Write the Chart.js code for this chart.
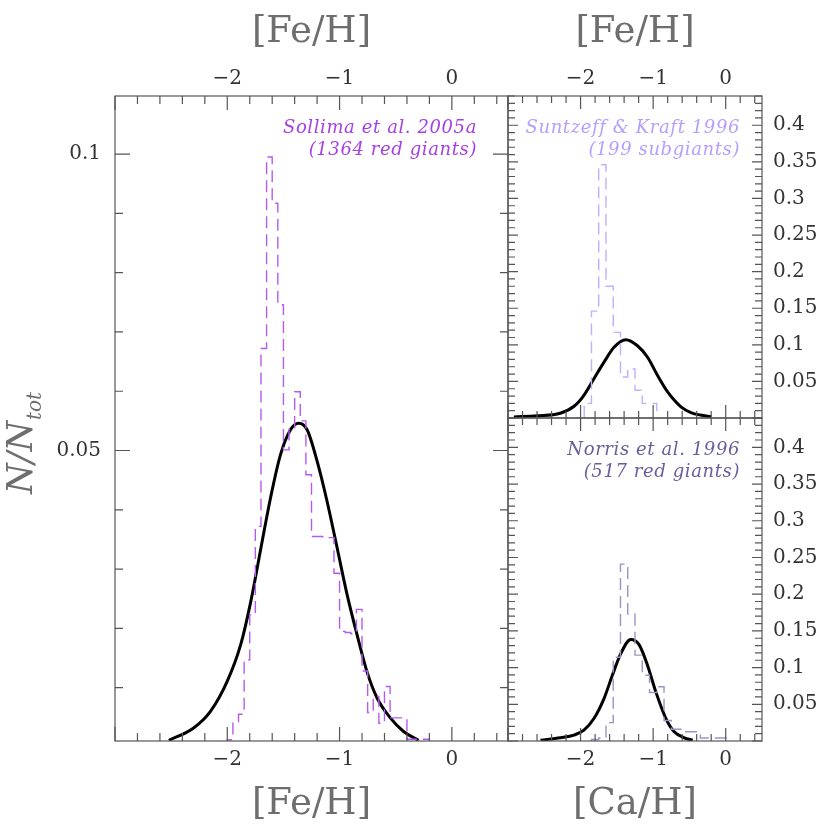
<!DOCTYPE html>
<html>
<head>
<meta charset="utf-8">
<script src="https://cdn.jsdelivr.net/npm/chart.js@4.4.1/dist/chart.umd.min.js"></script>
<style>
  html, body { margin: 0; padding: 0; background: #fff; }
  #wrap { position: relative; width: 830px; height: 830px; }
  #wrap canvas { position: absolute; left: 0; top: 0; }
</style>
</head>
<body>
<div id="wrap">
  <canvas id="left" width="830" height="830"></canvas>
  <canvas id="topRight" width="830" height="830"></canvas>
  <canvas id="bottomRight" width="830" height="830"></canvas>
</div>
<script>
// tick labels
var xTickValues = [-2, -1, 0];
var leftYTicks = [0.05, 0.1];
var rightYTicks = [0.05, 0.1, 0.15, 0.2, 0.25, 0.3, 0.35, 0.4];

// Sollima et al. 2005a, [Fe/H] histogram (bin edges, fraction per bin)
var sollimaEdges = [-2.00, -1.95, -1.90, -1.85, -1.80, -1.75, -1.70, -1.65, -1.60, -1.55, -1.50, -1.45, -1.40,
  -1.35, -1.30, -1.25, -1.20, -1.15, -1.10, -1.05, -1.00, -0.95, -0.90, -0.85, -0.80, -0.75, -0.70, -0.65,
  -0.60, -0.55, -0.50, -0.45, -0.40, -0.35, -0.30, -0.25, -0.20];
var sollimaFrac = [0.0012, 0.0043, 0.0055, 0.0147, 0.0223, 0.0372, 0.0672, 0.0995, 0.0917, 0.0746, 0.0501, 0.0538,
  0.0599, 0.0550, 0.0459, 0.0355, 0.0355, 0.0353, 0.0353, 0.0293, 0.0195, 0.0193, 0.0191, 0.0232, 0.0128, 0.0058,
  0.0085, 0.0040, 0.0102, 0.0049, 0.0049, 0.0049, 0.0013, 0.0013, 0.0013, 0.0013];
// model curve in the left panel
var sollimaFitX = [-2.52, -2.30, -2.15, -2.00, -1.88, -1.79, -1.70, -1.615, -1.526, -1.437, -1.364, -1.289, -1.20,
  -1.111, -1.022, -0.933, -0.844, -0.756, -0.667, -0.548, -0.43, -0.297];
var sollimaFitY = [0.0011, 0.0032, 0.0060, 0.0111, 0.0173, 0.0246, 0.0336, 0.0420, 0.0493, 0.0535, 0.0546, 0.0535,
  0.0482, 0.0414, 0.0336, 0.0257, 0.0189, 0.0127, 0.0083, 0.0049, 0.0026, 0.0011];

// Suntzeff & Kraft 1996
var suntzeffEdges = [-1.95, -1.85, -1.75, -1.65, -1.55, -1.45, -1.35, -1.25, -1.15, -1.05, -0.95];
var suntzeffFrac = [0.020, 0.146, 0.346, 0.180, 0.117, 0.056, 0.067, 0.038, 0.020, 0.020];
var suntzeffFitX = [-2.92, -2.60, -2.28, -2.09, -1.954, -1.816, -1.677, -1.539, -1.378, -1.216, -1.077, -0.939,
  -0.801, -0.617, -0.479, -0.35, -0.20];
var suntzeffFitY = [0.0015, 0.003, 0.0065, 0.016, 0.031, 0.0536, 0.0763, 0.0966, 0.107, 0.0987, 0.083, 0.058,
  0.0356, 0.0153, 0.0075, 0.004, 0.0018];

// Norris et al. 1996, [Ca/H]
var norrisEdges = [-1.85, -1.75, -1.65, -1.55, -1.45, -1.35, -1.25, -1.15, -1.05, -0.95, -0.85, -0.75, -0.65,
  -0.55, -0.45, -0.35, -0.25, -0.15, -0.05, 0.05];
var norrisFrac = [0.002, 0.004, 0.025, 0.114, 0.241, 0.173, 0.117, 0.0895, 0.066, 0.074, 0.028, 0.016, 0.016,
  0.0125, 0.0125, 0.004, 0.004, 0.004, 0.004];
var norrisFitX = [-2.553, -2.277, -2.092, -1.954, -1.816, -1.677, -1.562, -1.446, -1.308, -1.194, -1.077, -0.963,
  -0.824, -0.71, -0.571, -0.455];
var norrisFitY = [0.001, 0.0044, 0.0079, 0.0147, 0.0306, 0.0578, 0.0895, 0.119, 0.1384, 0.1312, 0.103, 0.0669,
  0.0306, 0.0125, 0.0044, 0.001];

var serif = "'DejaVu Serif', 'Liberation Serif', serif";
var tickFont = { family: serif, size: 20 };
var titleFont = { family: serif, size: 37 };

function minus(v) {
  return v < 0 ? "\u2212" + Math.abs(v) : String(v);
}

function toPoints(xs, ys) {
  return xs.map(function (x, i) { return { x: x, y: ys[i] }; });
}

// step outline: start and end on the axis
function histPoints(edges, frac) {
  var pts = [{ x: edges[0], y: 0 }];
  for (var i = 0; i < frac.length; i++) pts.push({ x: edges[i], y: frac[i] });
  pts.push({ x: edges[edges.length - 1], y: 0 });
  return pts;
}

function xAxis(pos, title, size) {
  return {
    type: "linear", position: pos, min: -3, max: 0.5,
    afterBuildTicks: function (s) { s.ticks = xTickValues.map(function (v) { return { value: v }; }); },
    afterFit: function (s) { s.height = size; },
    ticks: { callback: minus, font: tickFont, color: "#333", padding: pos === "top" ? 5 : 7, maxRotation: 0, autoSkip: false },
    grid: { display: false, drawTicks: false },
    border: { display: false },
    title: { display: !!title, text: title, font: titleFont, color: "#6e6e6e",
      padding: pos === "top" ? { top: 10, bottom: 0 } : { top: 0, bottom: 3 } }
  };
}

function yAxis(pos, min, max, labels, size, pad) {
  return {
    type: "linear", position: pos, min: min, max: max,
    afterBuildTicks: function (s) { s.ticks = labels.map(function (v) { return { value: v }; }); },
    afterFit: function (s) { s.width = size; },
    ticks: { callback: function (v) { return String(v); }, font: tickFont, color: "#333", padding: pad },
    grid: { display: false, drawTicks: false },
    border: { display: false }
  };
}

// frame with inward ticks on all four sides
var frameTicks = {
  id: "frameTicks",
  afterDatasetsDraw: function (chart, args, o) {
    var a = chart.chartArea, ctx = chart.ctx;
    var xs = chart.scales.x, ys = chart.scales.y;
    ctx.save();
    ctx.strokeStyle = "#555";
    ctx.lineWidth = 1.2;
    ctx.beginPath();
    var k, v, len, p;
    for (k = Math.ceil(xs.min / o.xMinor - 1e-6); k <= Math.floor(xs.max / o.xMinor + 1e-6); k++) {
      v = k * o.xMinor;
      len = Math.abs(v / o.xMajor - Math.round(v / o.xMajor)) < 1e-6 ? o.xMajorLen : o.xMinorLen;
      p = xs.getPixelForValue(v);
      ctx.moveTo(p, a.bottom); ctx.lineTo(p, a.bottom - len);
      ctx.moveTo(p, a.top); ctx.lineTo(p, a.top + len);
    }
    for (k = Math.ceil(ys.min / o.yMinor - 1e-6); k <= Math.floor(ys.max / o.yMinor + 1e-6); k++) {
      v = k * o.yMinor;
      len = Math.abs(v / o.yMajor - Math.round(v / o.yMajor)) < 1e-6 ? o.yMajorLen : o.yMinorLen;
      p = ys.getPixelForValue(v);
      ctx.moveTo(a.left, p); ctx.lineTo(a.left + len, p);
      ctx.moveTo(a.right, p); ctx.lineTo(a.right - len, p);
    }
    ctx.stroke();
    ctx.strokeRect(a.left, a.top, a.right - a.left, a.bottom - a.top);
    ctx.restore();
  }
};

// sample notes in the upper right corner of a panel
var notes = {
  id: "notes",
  afterDatasetsDraw: function (chart, args, o) {
    if (!o.lines) return;
    var a = chart.chartArea, ctx = chart.ctx;
    ctx.save();
    ctx.font = "italic 18px " + serif;
    ctx.letterSpacing = "0.6px";
    ctx.fillStyle = o.color;
    ctx.textAlign = "right";
    ctx.textBaseline = "alphabetic";
    o.lines.forEach(function (t, i) { ctx.fillText(t, a.right - o.right, a.top + 37 + i * 22); });
    ctx.restore();
  }
};

// N/N_tot with subscript
var yLabel = {
  id: "yLabel",
  afterDraw: function (chart) {
    var ctx = chart.ctx;
    ctx.save();
    ctx.translate(32, 494);
    ctx.rotate(-Math.PI / 2);
    ctx.fillStyle = "#6e6e6e";
    ctx.font = "italic 35px " + serif;
    ctx.fillText("N/N", 0, 0);
    var w = ctx.measureText("N/N").width;
    ctx.font = "italic 20px " + serif;
    ctx.fillText("tot", w + 1, 9);
    ctx.restore();
  }
};

function histSet(pts, color) {
  return { data: pts, xAxisID: "x", yAxisID: "y", stepped: true, borderColor: color, borderWidth: 1.4,
    borderDash: [12, 6], pointRadius: 0, fill: false };
}
function fitSet(pts) {
  return { data: pts, xAxisID: "x", yAxisID: "y", borderColor: "#000", borderWidth: 3, pointRadius: 0,
    fill: false, cubicInterpolationMode: "monotone" };
}

var common = {
  responsive: false, animation: false, events: [],
  parsing: false
};

new Chart(document.getElementById("left"), {
  type: "line",
  data: { datasets: [
    histSet(histPoints(sollimaEdges, sollimaFrac), "#b55cf0"),
    fitSet(toPoints(sollimaFitX, sollimaFitY))
  ] },
  options: Object.assign({}, common, {
    layout: { padding: { left: 0, top: 0, right: 322, bottom: 0 } },
    plugins: {
      legend: { display: false }, tooltip: { enabled: false },
      frameTicks: { xMinor: 0.2, xMajor: 1, xMinorLen: 8, xMajorLen: 14, yMinor: 0.01, yMajor: 0.05, yMinorLen: 8, yMajorLen: 15 },
      notes: { lines: ["Sollima et al. 2005a", "(1364 red giants)"], color: "#a640e6", right: 31 }
    },
    scales: {
      x: xAxis("bottom", "[Fe/H]", 89),
      xTop: xAxis("top", "[Fe/H]", 96),
      y: yAxis("left", 0.001, 0.1098, leftYTicks, 115, 14)
    }
  }),
  plugins: [frameTicks, notes, yLabel]
});

new Chart(document.getElementById("topRight"), {
  type: "line",
  data: { datasets: [
    histSet(histPoints(suntzeffEdges, suntzeffFrac), "#c3aeff"),
    fitSet(toPoints(suntzeffFitX, suntzeffFitY))
  ] },
  options: Object.assign({}, common, {
    layout: { padding: { left: 508, top: 0, right: 0, bottom: 412 } },
    plugins: {
      legend: { display: false }, tooltip: { enabled: false },
      frameTicks: { xMinor: 0.2, xMajor: 1, xMinorLen: 7, xMajorLen: 13, yMinor: 0.01, yMajor: 0.05, yMinorLen: 7, yMajorLen: 10 },
      notes: { lines: ["Suntzeff & Kraft 1996", "(199 subgiants)"], color: "#b69eff", right: 22 }
    },
    scales: {
      x: xAxis("top", "[Fe/H]", 96),
      y: yAxis("right", 0, 0.44, rightYTicks, 68, 11)
    }
  }),
  plugins: [frameTicks, notes]
});

new Chart(document.getElementById("bottomRight"), {
  type: "line",
  data: { datasets: [
    histSet(histPoints(norrisEdges, norrisFrac), "#9d92c6"),
    fitSet(toPoints(norrisFitX, norrisFitY))
  ] },
  options: Object.assign({}, common, {
    layout: { padding: { left: 508, top: 418, right: 0, bottom: 0 } },
    plugins: {
      legend: { display: false }, tooltip: { enabled: false },
      frameTicks: { xMinor: 0.2, xMajor: 1, xMinorLen: 7, xMajorLen: 13, yMinor: 0.01, yMajor: 0.05, yMinorLen: 7, yMajorLen: 10 },
      notes: { lines: ["Norris et al. 1996", "(517 red giants)"], color: "#6c5c9c", right: 22 }
    },
    scales: {
      x: xAxis("bottom", "[Ca/H]", 89),
      y: yAxis("right", 0, 0.44, rightYTicks, 68, 11)
    }
  }),
  plugins: [frameTicks, notes]
});
</script>
</body>
</html>
